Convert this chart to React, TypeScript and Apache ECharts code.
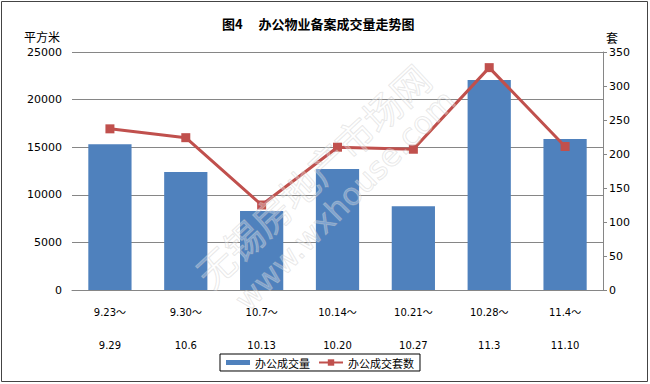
import React, { useEffect, useRef } from "react";
import * as echarts from "echarts";

const periodStart = ["9.23～", "9.30～", "10.7～", "10.14～", "10.21～", "10.28～", "11.4～"];
const periodEnd = ["9.29", "10.6", "10.13", "10.20", "10.27", "11.3", "11.10"];
const areaValues = [15300, 12400, 8300, 12700, 8800, 22050, 15850];
const unitValues = [237, 224, 125, 210, 207, 327, 211];
const areaAxis = { min: 0, max: 25000, interval: 5000 };
const unitAxis = { min: 0, max: 350, interval: 50 };
const seriesNames = ["办公成交量", "办公成交套数"];
const titleText = "图4　 办公物业备案成交量走势图";
const watermarkCn = "无锡房地产市场网";
const watermarkEn = "www.wxhouse.com";

const latin = "DejaVu Sans, Noto Sans CJK SC, sans-serif";
const cjk = "Noto Sans CJK SC, sans-serif";

export default function App() {
  const ref = useRef<HTMLDivElement>(null);
  useEffect(() => {
    document.body.style.margin = "0";
    const chart = echarts.init(ref.current!, null, { renderer: "svg" });
    const categories = periodStart.map((s, i) => `${s}\n${periodEnd[i]}`);
    chart.setOption({
      animation: false,
      backgroundColor: "#fff",
      title: {
        text: titleText,
        left: 217,
        top: 12,
        textStyle: { fontFamily: cjk, fontSize: 13, fontWeight: "bold", color: "#000" },
      },
      grid: { left: 72, right: 47, top: 52, bottom: 94, containLabel: false },
      legend: {
        left: 220,
        top: 354,
        padding: [3, 6, 3, 6],
        borderColor: "#000",
        borderWidth: 1,
        itemWidth: 24,
        itemHeight: 8,
        itemGap: 8,
        textStyle: { fontFamily: cjk, fontSize: 11, color: "#000" },
        data: [
          { name: seriesNames[0], icon: "path://M0,0h24v5h-24z" },
          { name: seriesNames[1] },
        ],
      },
      xAxis: {
        type: "category",
        data: categories,
        axisLine: { lineStyle: { color: "#868686", width: 1 } },
        axisTick: { show: false },
        axisLabel: {
          interval: 0,
          fontFamily: latin,
          fontSize: 10,
          color: "#000",
          lineHeight: 33,
          margin: 6,
        },
      },
      yAxis: [
        {
          type: "value",
          ...areaAxis,
          name: "平方米",
          nameLocation: "end",
          nameGap: 10,
          nameTextStyle: { fontFamily: cjk, fontSize: 12, color: "#000", align: "right", padding: [0, 12, 0, 0] },
          axisLine: { show: false },
          axisTick: { show: false },
          axisLabel: {
            fontFamily: latin,
            fontSize: 11,
            color: "#000",
            margin: 10,
            formatter: (v: number) => String(v),
          },
          splitLine: { lineStyle: { color: "#868686", width: 1 } },
        },
        {
          type: "value",
          ...unitAxis,
          name: "套",
          nameLocation: "end",
          nameGap: 9,
          nameTextStyle: { fontFamily: cjk, fontSize: 12, color: "#000", align: "left", padding: [0, 0, 0, 3] },
          axisLine: { show: true, lineStyle: { color: "#868686", width: 1 } },
          axisTick: { show: true, length: 4, lineStyle: { color: "#868686" } },
          axisLabel: {
            fontFamily: latin,
            fontSize: 11,
            color: "#000",
            margin: 6,
            formatter: (v: number) => String(v),
          },
          splitLine: { show: false },
        },
      ],
      series: [
        {
          name: seriesNames[0],
          type: "bar",
          data: areaValues,
          yAxisIndex: 0,
          barWidth: "57%",
          itemStyle: { color: "#4F81BD" },
        },
        {
          name: seriesNames[1],
          type: "line",
          data: unitValues,
          yAxisIndex: 1,
          symbol: "rect",
          symbolSize: 9,
          lineStyle: { color: "#C0504D", width: 3 },
          itemStyle: { color: "#C0504D" },
        },
      ],
      graphic: [
        {
          type: "rect",
          shape: { x: 1.5, y: 1.5, width: 646, height: 380 },
          style: { fill: "none", stroke: "#444", lineWidth: 1 },
          silent: true,
          z: 100,
        },
        {
          type: "text",
          x: 312,
          y: 175,
          rotation: (43 * Math.PI) / 180,
          style: {
            text: watermarkCn,
            fontFamily: cjk,
            fontSize: 38,
            fill: "rgba(255,255,255,0.3)",
            stroke: "rgba(190,190,190,0.4)",
            lineWidth: 1,
            align: "center",
            verticalAlign: "middle",
          },
          silent: true,
          z: 50,
        },
        {
          type: "text",
          x: 345,
          y: 200,
          rotation: (45 * Math.PI) / 180,
          style: {
            text: watermarkEn,
            fontFamily: latin,
            fontSize: 31,
            fill: "rgba(255,255,255,0.3)",
            stroke: "rgba(190,190,190,0.4)",
            lineWidth: 1,
            align: "center",
            verticalAlign: "middle",
          },
          silent: true,
          z: 50,
        },
      ],
    });
    return () => chart.dispose();
  }, []);
  return <div ref={ref} style={{ width: 650, height: 384 }} />;
}
